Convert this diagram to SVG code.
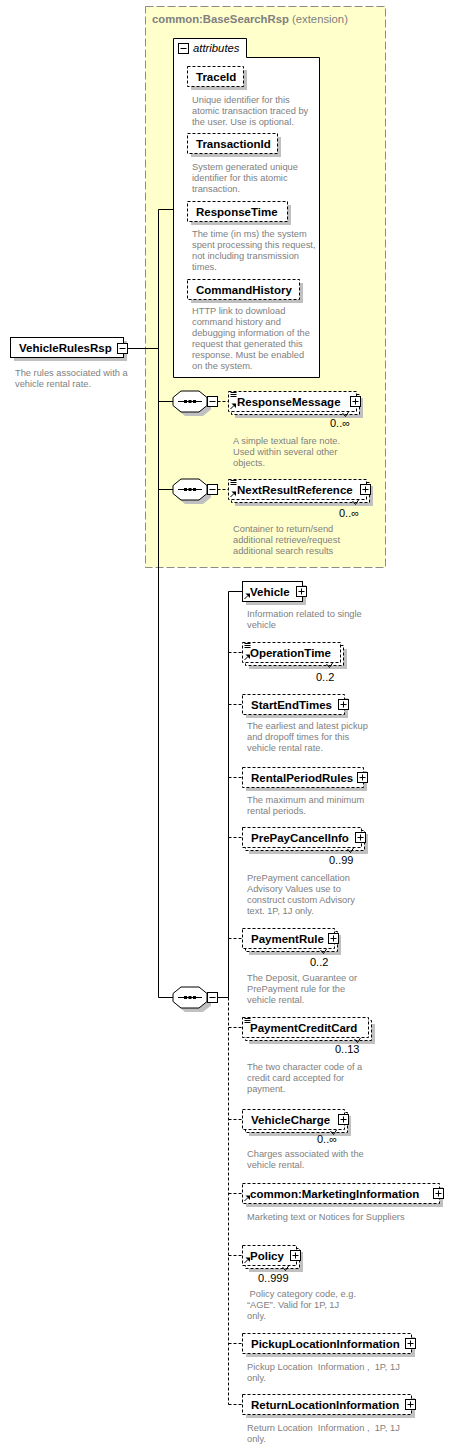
<svg xmlns="http://www.w3.org/2000/svg" width="463" height="1448" viewBox="0 0 463 1448">
<style>
.n{font-family:"Liberation Sans",Arial,sans-serif;font-weight:bold;font-size:11.5px;fill:#000}
.d{font-family:"Liberation Sans",Arial,sans-serif;font-size:9.3px;fill:#808080}
.o{font-family:"Liberation Sans",Arial,sans-serif;font-size:11px;fill:#000}
.t{font-family:"Liberation Sans",Arial,sans-serif;font-size:11.3px;fill:#808080}
.box{fill:#fff;stroke:#000;stroke-width:1}
.dbox{fill:#fff;stroke:#000;stroke-width:1;stroke-dasharray:3,2}
.sh{fill:#c0c0c0}
.ln{stroke:#000;stroke-width:1;fill:none}
.dl{stroke:#000;stroke-width:1;fill:none;stroke-dasharray:3,2}
.ext{fill:#ffffcc;stroke:#8c8c8c;stroke-width:1;stroke-dasharray:8,3}
</style>
<defs>
<g id="seq">
<polygon class="sh" transform="translate(4,4)" points="8,-10.5 26,-10.5 34,-4 34,4 26,10.5 8,10.5 0,4 0,-4"/>
<polygon class="box" points="8,-10.5 26,-10.5 34,-4 34,4 26,10.5 8,10.5 0,4 0,-4"/>
<path class="ln" d="M5,0H29"/>
<rect x="11" y="-1.5" width="3" height="3" fill="#000"/>
<rect x="15.5" y="-1.5" width="3" height="3" fill="#000"/>
<rect x="20" y="-1.5" width="3" height="3" fill="#000"/>
<rect class="box" x="34.5" y="-5" width="10" height="10"/>
<path class="ln" d="M36.5,0H42.5"/>
</g>
<g id="plus">
<rect class="box" x="0" y="0" width="10" height="10"/>
<path class="ln" d="M2,5H8M5,2V8"/>
</g>
<g id="minus">
<rect class="box" x="0" y="0" width="10" height="10"/>
<path class="ln" d="M2,5H8"/>
</g>
<g id="mix">
<path class="ln" d="M2,1.5H8M2,3.5H8M2,5.5H8"/>
</g>
<g id="ref">
<path class="ln" d="M2.5,-2.5L6,-6"/>
<polygon points="3.5,-8 8,-8 8,-3.5" fill="#000"/>
</g>
<g id="tick">
<path class="ln" d="M-14,1.5L-11,5L-8,0.5"/>
</g>
</defs>

<g id="extension">
<rect class="ext" x="145.5" y="6.5" width="240" height="561"/>
<text x="152" y="23" class="t"><tspan font-weight="bold">common:BaseSearchRsp</tspan> (extension)</text>
</g>

<g id="attributes">
<polygon class="box" points="173.5,38.5 246.5,38.5 246.5,57.5 319.5,57.5 319.5,377.5 173.5,377.5"/>
<use href="#minus" x="178.5" y="43.5"/>
<text x="193" y="52" font-family="Liberation Sans, Arial, sans-serif" font-size="11.3" font-style="italic" fill="#000">attributes</text>
</g>

<g id="connectors">
<path class="ln" d="M128,348.5H158.5M158.5,209.5V997.5M158.5,209.5H173.5M158.5,401.5H173M158.5,489.5H173M158.5,997.5H173"/>
<path class="dl" d="M217.5,401.5H228.5M217.5,489.5H228.5"/>
<path class="ln" d="M217.5,997.5H228.5M228.5,591.5V997.5M228.5,591.5H242.5"/>
<path class="dl" d="M228.5,997.5V1404.5M228.5,652.5H242.5M228.5,704.5H242.5M228.5,777.5H242.5M228.5,837.5H242.5M228.5,938.5H242.5M228.5,1027.5H242.5M228.5,1119.5H242.5M228.5,1193.5H242.5M228.5,1255.5H242.5M228.5,1343.5H242.5M228.5,1404.5H242.5"/>
</g>

<g id="VehicleRulesRsp">
<rect class="sh" x="14" y="341" width="113" height="20"/>
<rect class="box" x="10.5" y="337.5" width="113" height="20"/>
<text class="n" x="19" y="352">VehicleRulesRsp</text>
<use href="#minus" x="117.5" y="343.5"/>
<text class="d" x="15" y="375.5">The rules associated with a</text>
<text class="d" x="15" y="386.5">vehicle rental rate.</text>
</g>

<g id="TraceId">
<rect class="sh" x="191" y="70" width="56" height="20"/>
<rect class="dbox" x="187.5" y="66.5" width="56" height="20"/>
<text class="n" x="196" y="81">TraceId</text>
<text class="d" x="192" y="102.5">Unique identifier for this</text>
<text class="d" x="192" y="113.5">atomic transaction traced by</text>
<text class="d" x="192" y="124.5">the user. Use is optional.</text>
</g>

<g id="TransactionId">
<rect class="sh" x="191" y="137" width="90" height="20"/>
<rect class="dbox" x="187.5" y="133.5" width="90" height="20"/>
<text class="n" x="196" y="148">TransactionId</text>
<text class="d" x="192" y="169.5">System generated unique</text>
<text class="d" x="192" y="180.5">identifier for this atomic</text>
<text class="d" x="192" y="191.5">transaction.</text>
</g>

<g id="ResponseTime">
<rect class="sh" x="191" y="205" width="100" height="20"/>
<rect class="dbox" x="187.5" y="201.5" width="100" height="20"/>
<text class="n" x="196" y="216">ResponseTime</text>
<text class="d" x="192" y="236.5">The time (in ms) the system</text>
<text class="d" x="192" y="247.5">spent processing this request,</text>
<text class="d" x="192" y="258.5">not including transmission</text>
<text class="d" x="192" y="269.5">times.</text>
</g>

<g id="CommandHistory">
<rect class="sh" x="191" y="283" width="112" height="20"/>
<rect class="dbox" x="187.5" y="279.5" width="112" height="20"/>
<text class="n" x="196" y="294">CommandHistory</text>
<text class="d" x="192" y="313.5">HTTP link to download</text>
<text class="d" x="192" y="324.5">command history and</text>
<text class="d" x="192" y="335.5">debugging information of the</text>
<text class="d" x="192" y="346.5">request that generated this</text>
<text class="d" x="192" y="357.5">response. Must be enabled</text>
<text class="d" x="192" y="368.5">on the system.</text>
</g>

<g id="seq1"><use href="#seq" x="173" y="401.5"/></g>
<g id="seq2"><use href="#seq" x="173" y="489.5"/></g>
<g id="seq3"><use href="#seq" x="173" y="997.5"/></g>

<g id="ResponseMessage">
<rect class="sh" x="235" y="398" width="128" height="20"/>
<rect class="dbox" x="231.5" y="394.5" width="128" height="20"/>
<rect class="dbox" x="228.5" y="391.5" width="128" height="20"/>
<use href="#mix" x="228.5" y="391"/>
<use href="#ref" x="228" y="411.5"/>
<text class="n" x="237" y="406">ResponseMessage</text>
<use href="#plus" x="350.5" y="396.5"/>
<use href="#tick" x="356.5" y="411.5"/>
<text class="o" x="330" y="427">0..∞</text>
<text class="d" x="233" y="443.5">A simple textual fare note.</text>
<text class="d" x="233" y="454.5">Used within several other</text>
<text class="d" x="233" y="465.5">objects.</text>
</g>

<g id="NextResultReference">
<rect class="sh" x="235" y="486" width="138" height="20"/>
<rect class="dbox" x="231.5" y="482.5" width="138" height="20"/>
<rect class="dbox" x="228.5" y="479.5" width="138" height="20"/>
<use href="#mix" x="228.5" y="479"/>
<use href="#ref" x="228" y="499.5"/>
<text class="n" x="237" y="494">NextResultReference</text>
<use href="#plus" x="360.5" y="484.5"/>
<use href="#tick" x="366.5" y="499.5"/>
<text class="o" x="339" y="517">0..∞</text>
<text class="d" x="233" y="531.5">Container to return/send</text>
<text class="d" x="233" y="542.5">additional retrieve/request</text>
<text class="d" x="233" y="553.5">additional search results</text>
</g>

<g id="Vehicle">
<rect class="sh" x="246" y="585" width="60" height="20"/>
<rect class="box" x="242.5" y="581.5" width="60" height="20"/>
<use href="#ref" x="242" y="601.5"/>
<text class="n" x="250" y="596">Vehicle</text>
<use href="#plus" x="296.5" y="586.5"/>
<text class="d" x="247" y="616.5">Information related to single</text>
<text class="d" x="247" y="627.5">vehicle</text>
</g>

<g id="OperationTime">
<rect class="sh" x="249" y="649" width="98" height="20"/>
<rect class="dbox" x="245.5" y="645.5" width="98" height="20"/>
<rect class="dbox" x="242.5" y="642.5" width="98" height="20"/>
<use href="#mix" x="242.5" y="642"/>
<use href="#ref" x="242" y="662.5"/>
<text class="n" x="250" y="657">OperationTime</text>
<use href="#tick" x="340.5" y="662.5"/>
<text class="o" x="316" y="681">0..2</text>
</g>

<g id="StartEndTimes">
<rect class="sh" x="246" y="698" width="102" height="20"/>
<rect class="dbox" x="242.5" y="694.5" width="102" height="20"/>
<text class="n" x="251" y="709">StartEndTimes</text>
<use href="#plus" x="338.5" y="699.5"/>
<text class="d" x="247" y="728.5">The earliest and latest pickup</text>
<text class="d" x="247" y="739.5">and dropoff times for this</text>
<text class="d" x="247" y="750.5">vehicle rental rate.</text>
</g>

<g id="RentalPeriodRules">
<rect class="sh" x="246" y="771" width="121" height="20"/>
<rect class="dbox" x="242.5" y="767.5" width="121" height="20"/>
<text class="n" x="251" y="782">RentalPeriodRules</text>
<use href="#plus" x="357.5" y="772.5"/>
<text class="d" x="247" y="802.5">The maximum and minimum</text>
<text class="d" x="247" y="813.5">rental periods.</text>
</g>

<g id="PrePayCancelInfo">
<rect class="sh" x="249" y="834" width="119" height="20"/>
<rect class="dbox" x="245.5" y="830.5" width="119" height="20"/>
<rect class="dbox" x="242.5" y="827.5" width="119" height="20"/>
<text class="n" x="251" y="842">PrePayCancelInfo</text>
<use href="#plus" x="355.5" y="832.5"/>
<use href="#tick" x="361.5" y="847.5"/>
<text class="o" x="329" y="864">0..99</text>
<text class="d" x="247" y="880.5">PrePayment cancellation</text>
<text class="d" x="247" y="891.5">Advisory Values use to</text>
<text class="d" x="247" y="902.5">construct custom Advisory</text>
<text class="d" x="247" y="913.5">text. 1P, 1J only.</text>
</g>

<g id="PaymentRule">
<rect class="sh" x="249" y="935" width="92" height="20"/>
<rect class="dbox" x="245.5" y="931.5" width="92" height="20"/>
<rect class="dbox" x="242.5" y="928.5" width="92" height="20"/>
<text class="n" x="251" y="943">PaymentRule</text>
<use href="#plus" x="328.5" y="933.5"/>
<use href="#tick" x="334.5" y="948.5"/>
<text class="o" x="310" y="966">0..2</text>
<text class="d" x="247" y="980.5">The Deposit, Guarantee or</text>
<text class="d" x="247" y="991.5">PrePayment rule for the</text>
<text class="d" x="247" y="1002.5">vehicle rental.</text>
</g>

<g id="PaymentCreditCard">
<rect class="sh" x="249" y="1024" width="126" height="20"/>
<rect class="dbox" x="245.5" y="1020.5" width="126" height="20"/>
<rect class="dbox" x="242.5" y="1017.5" width="126" height="20"/>
<use href="#mix" x="242.5" y="1017"/>
<text class="n" x="250" y="1032">PaymentCreditCard</text>
<use href="#tick" x="368.5" y="1037.5"/>
<text class="o" x="335" y="1053">0..13</text>
<text class="d" x="247" y="1069.5">The two character code of a</text>
<text class="d" x="247" y="1080.5">credit card accepted for</text>
<text class="d" x="247" y="1091.5">payment.</text>
</g>

<g id="VehicleCharge">
<rect class="sh" x="249" y="1116" width="102" height="20"/>
<rect class="dbox" x="245.5" y="1112.5" width="102" height="20"/>
<rect class="dbox" x="242.5" y="1109.5" width="102" height="20"/>
<text class="n" x="251" y="1124">VehicleCharge</text>
<use href="#plus" x="338.5" y="1114.5"/>
<use href="#tick" x="344.5" y="1129.5"/>
<text class="o" x="317" y="1143">0..∞</text>
<text class="d" x="247" y="1156.5">Charges associated with the</text>
<text class="d" x="247" y="1167.5">vehicle rental.</text>
</g>

<g id="MarketingInformation">
<rect class="sh" x="246" y="1187" width="197" height="20"/>
<rect class="dbox" x="242.5" y="1183.5" width="197" height="20"/>
<use href="#ref" x="242" y="1203.5"/>
<text class="n" x="250" y="1198">common:MarketingInformation</text>
<use href="#plus" x="433.5" y="1188.5"/>
<text class="d" x="247" y="1219.5">Marketing text or Notices for Suppliers</text>
</g>

<g id="Policy">
<rect class="sh" x="249" y="1252" width="54" height="20"/>
<rect class="dbox" x="245.5" y="1248.5" width="54" height="20"/>
<rect class="dbox" x="242.5" y="1245.5" width="54" height="20"/>
<use href="#ref" x="242" y="1265.5"/>
<text class="n" x="250" y="1260">Policy</text>
<use href="#plus" x="290.5" y="1250.5"/>
<use href="#tick" x="296.5" y="1265.5"/>
<text class="o" x="258" y="1282">0..999</text>
<text class="d" x="247" y="1296.5" xml:space="preserve"> Policy category code, e.g.</text>
<text class="d" x="247" y="1307.5">“AGE”. Valid for 1P, 1J</text>
<text class="d" x="247" y="1318.5">only.</text>
</g>

<g id="PickupLocationInformation">
<rect class="sh" x="246" y="1337" width="169" height="20"/>
<rect class="dbox" x="242.5" y="1333.5" width="169" height="20"/>
<text class="n" x="251" y="1348">PickupLocationInformation</text>
<use href="#plus" x="405.5" y="1338.5"/>
<text class="d" x="247" y="1369.5" xml:space="preserve">Pickup Location  Information ,  1P, 1J</text>
<text class="d" x="247" y="1380.5">only.</text>
</g>

<g id="ReturnLocationInformation">
<rect class="sh" x="246" y="1398" width="169" height="20"/>
<rect class="dbox" x="242.5" y="1394.5" width="169" height="20"/>
<text class="n" x="251" y="1409">ReturnLocationInformation</text>
<use href="#plus" x="405.5" y="1399.5"/>
<text class="d" x="247" y="1430.5" xml:space="preserve">Return Location  Information ,  1P, 1J</text>
<text class="d" x="247" y="1441.5">only.</text>
</g>
</svg>
